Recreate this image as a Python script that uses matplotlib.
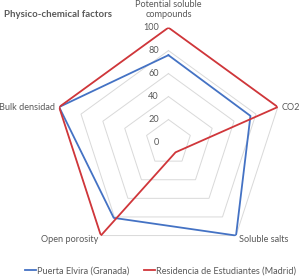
import matplotlib
matplotlib.use('Agg')
import matplotlib.pyplot as plt
import numpy as np

plt.rcParams['font.family'] = ['Lato', 'DejaVu Sans']

# categories (clockwise from top) and series values
categories = ['Potential soluble\ncompounds', 'CO2', 'Soluble salts', 'Open porosity', 'Bulk densidad']
granada = [76, 75, 100, 81, 100]
madrid = [100, 100, 10.5, 100, 100]
rings = [20, 40, 60, 80, 100]
ring_labels = ['0', '20', '40', '60', '80', '100']

blue = '#4472C4'
red = '#D0363A'
grey = '#595959'
fs = 6.6

fig = plt.figure(figsize=(3.0, 2.77), dpi=100)
ax = fig.add_axes([0.178, 0.0704, 0.767, 0.830], projection='polar')
ax.set_theta_offset(np.pi / 2)
ax.set_theta_direction(-1)
ax.set_ylim(0, 100)
ax.grid(False)
ax.spines['polar'].set_visible(False)
ax.set_xticks([])
ax.set_yticks([])
ax.patch.set_alpha(0)

n = len(categories)
angles = np.linspace(0, 2 * np.pi, n, endpoint=False)
closed = np.append(angles, angles[0])

# pentagon gridlines
for r in rings:
    ax.plot(closed, [r] * (n + 1), color='#D9D9D9', lw=0.7, zorder=1)

l1, = ax.plot(closed, granada + granada[:1], color=blue, lw=1.3, zorder=3)
l2, = ax.plot(closed, madrid + madrid[:1], color=red, lw=1.3, zorder=4)

# radial tick labels
for i, lab in enumerate(ring_labels):
    ax.annotate(lab, xy=(0, i * 20), xytext=(-7, 0), textcoords='offset points',
                ha='right', va='center', fontsize=fs, color=grey, annotation_clip=False)

# category labels
ax.annotate(categories[0], xy=(angles[0], 100), xytext=(0, 6), textcoords='offset points',
            ha='center', va='bottom', fontsize=fs, color=grey, linespacing=1.25,
            annotation_clip=False)
ax.annotate(categories[1], xy=(angles[1], 100), xytext=(2.5, 0), textcoords='offset points',
            ha='left', va='center', fontsize=fs, color=grey, annotation_clip=False)
ax.annotate(categories[2], xy=(angles[2], 100), xytext=(2, -3), textcoords='offset points',
            ha='left', va='center', fontsize=fs, color=grey, annotation_clip=False)
ax.annotate(categories[3], xy=(angles[3], 100), xytext=(-2, -3), textcoords='offset points',
            ha='right', va='center', fontsize=fs, color=grey, annotation_clip=False)
ax.annotate(categories[4], xy=(angles[4], 100), xytext=(-3, 0), textcoords='offset points',
            ha='right', va='center', fontsize=fs, color=grey, annotation_clip=False)

fig.text(0.013, 0.948, 'Physico-chemical factors', fontsize=6.9, fontweight='bold',
         color=grey, ha='left', va='center')

fig.legend([l1, l2], ['Puerta Elvira (Granada)', 'Residencia de Estudiantes (Madrid)'],
           loc='center', bbox_to_anchor=(0.535, 0.022), ncol=2, frameon=False,
           fontsize=fs, handlelength=1.2, handletextpad=0.1, columnspacing=1.6,
           labelcolor=grey)

fig.savefig('out.png', dpi=100)
